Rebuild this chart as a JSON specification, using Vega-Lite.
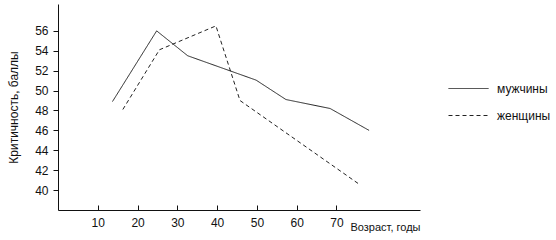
{
  "$schema": "https://vega.github.io/schema/vega-lite/v6.json",
  "autosize": {"type": "none"},
  "padding": {"left": 58, "top": 4, "right": 136, "bottom": 30},
  "width": 362,
  "height": 206,
  "background": "white",
  "config": {
    "view": {"stroke": null},
    "font": "Liberation Sans",
    "axis": {
      "domainColor": "#111",
      "tickColor": "#111",
      "labelColor": "#111",
      "titleColor": "#111",
      "labelFont": "Liberation Sans",
      "titleFont": "Liberation Sans",
      "labelFontSize": 12,
      "titleFontSize": 12,
      "titleFontWeight": "normal",
      "grid": false
    }
  },
  "data": {
    "values": [
      {"age": 13.7, "score": 48.9, "sex": "мужчины"},
      {"age": 24.8, "score": 56.0, "sex": "мужчины"},
      {"age": 32.6, "score": 53.5, "sex": "мужчины"},
      {"age": 49.8, "score": 51.05, "sex": "мужчины"},
      {"age": 57.3, "score": 49.1, "sex": "мужчины"},
      {"age": 68.4, "score": 48.2, "sex": "мужчины"},
      {"age": 78.2, "score": 46.0, "sex": "мужчины"},
      {"age": 16.3, "score": 48.1, "sex": "женщины"},
      {"age": 25.5, "score": 54.1, "sex": "женщины"},
      {"age": 39.7, "score": 56.5, "sex": "женщины"},
      {"age": 45.75, "score": 49.0, "sex": "женщины"},
      {"age": 75.5, "score": 40.65, "sex": "женщины"}
    ]
  },
  "mark": {"type": "line", "color": "#222", "strokeWidth": 1},
  "encoding": {
    "x": {
      "field": "age", "type": "quantitative",
      "scale": {"domain": [0, 91], "nice": false, "zero": false},
      "axis": {
        "values": [10, 20, 30, 40, 50, 60, 70],
        "tickSize": -5,
        "labelPadding": 12,
        "title": "Возраст, годы",
        "titleFontSize": 11,
        "titleAnchor": "end",
        "titleAlign": "right",
        "titleBaseline": "alphabetic",
        "titleX": 362,
        "titleY": 20
      }
    },
    "y": {
      "field": "score", "type": "quantitative",
      "scale": {"domain": [38, 58.7], "nice": false, "zero": false},
      "axis": {
        "values": [40, 42, 44, 46, 48, 50, 52, 54, 56],
        "tickSize": 5,
        "labelPadding": 5,
        "title": "Критичность, баллы",
        "titlePadding": 14
      }
    },
    "strokeDash": {
      "field": "sex", "type": "nominal",
      "scale": {"domain": ["мужчины", "женщины"], "range": [[1, 0], [4, 3]]},
      "legend": {
        "title": null,
        "orient": "none",
        "legendX": 390,
        "legendY": 64,
        "symbolType": "stroke",
        "symbolSize": 1600,
        "symbolStrokeColor": "#222",
        "symbolStrokeWidth": 1,
        "labelFontSize": 12,
        "labelColor": "#111",
        "labelOffset": 8,
        "rowPadding": -12
      }
    }
  }
}
